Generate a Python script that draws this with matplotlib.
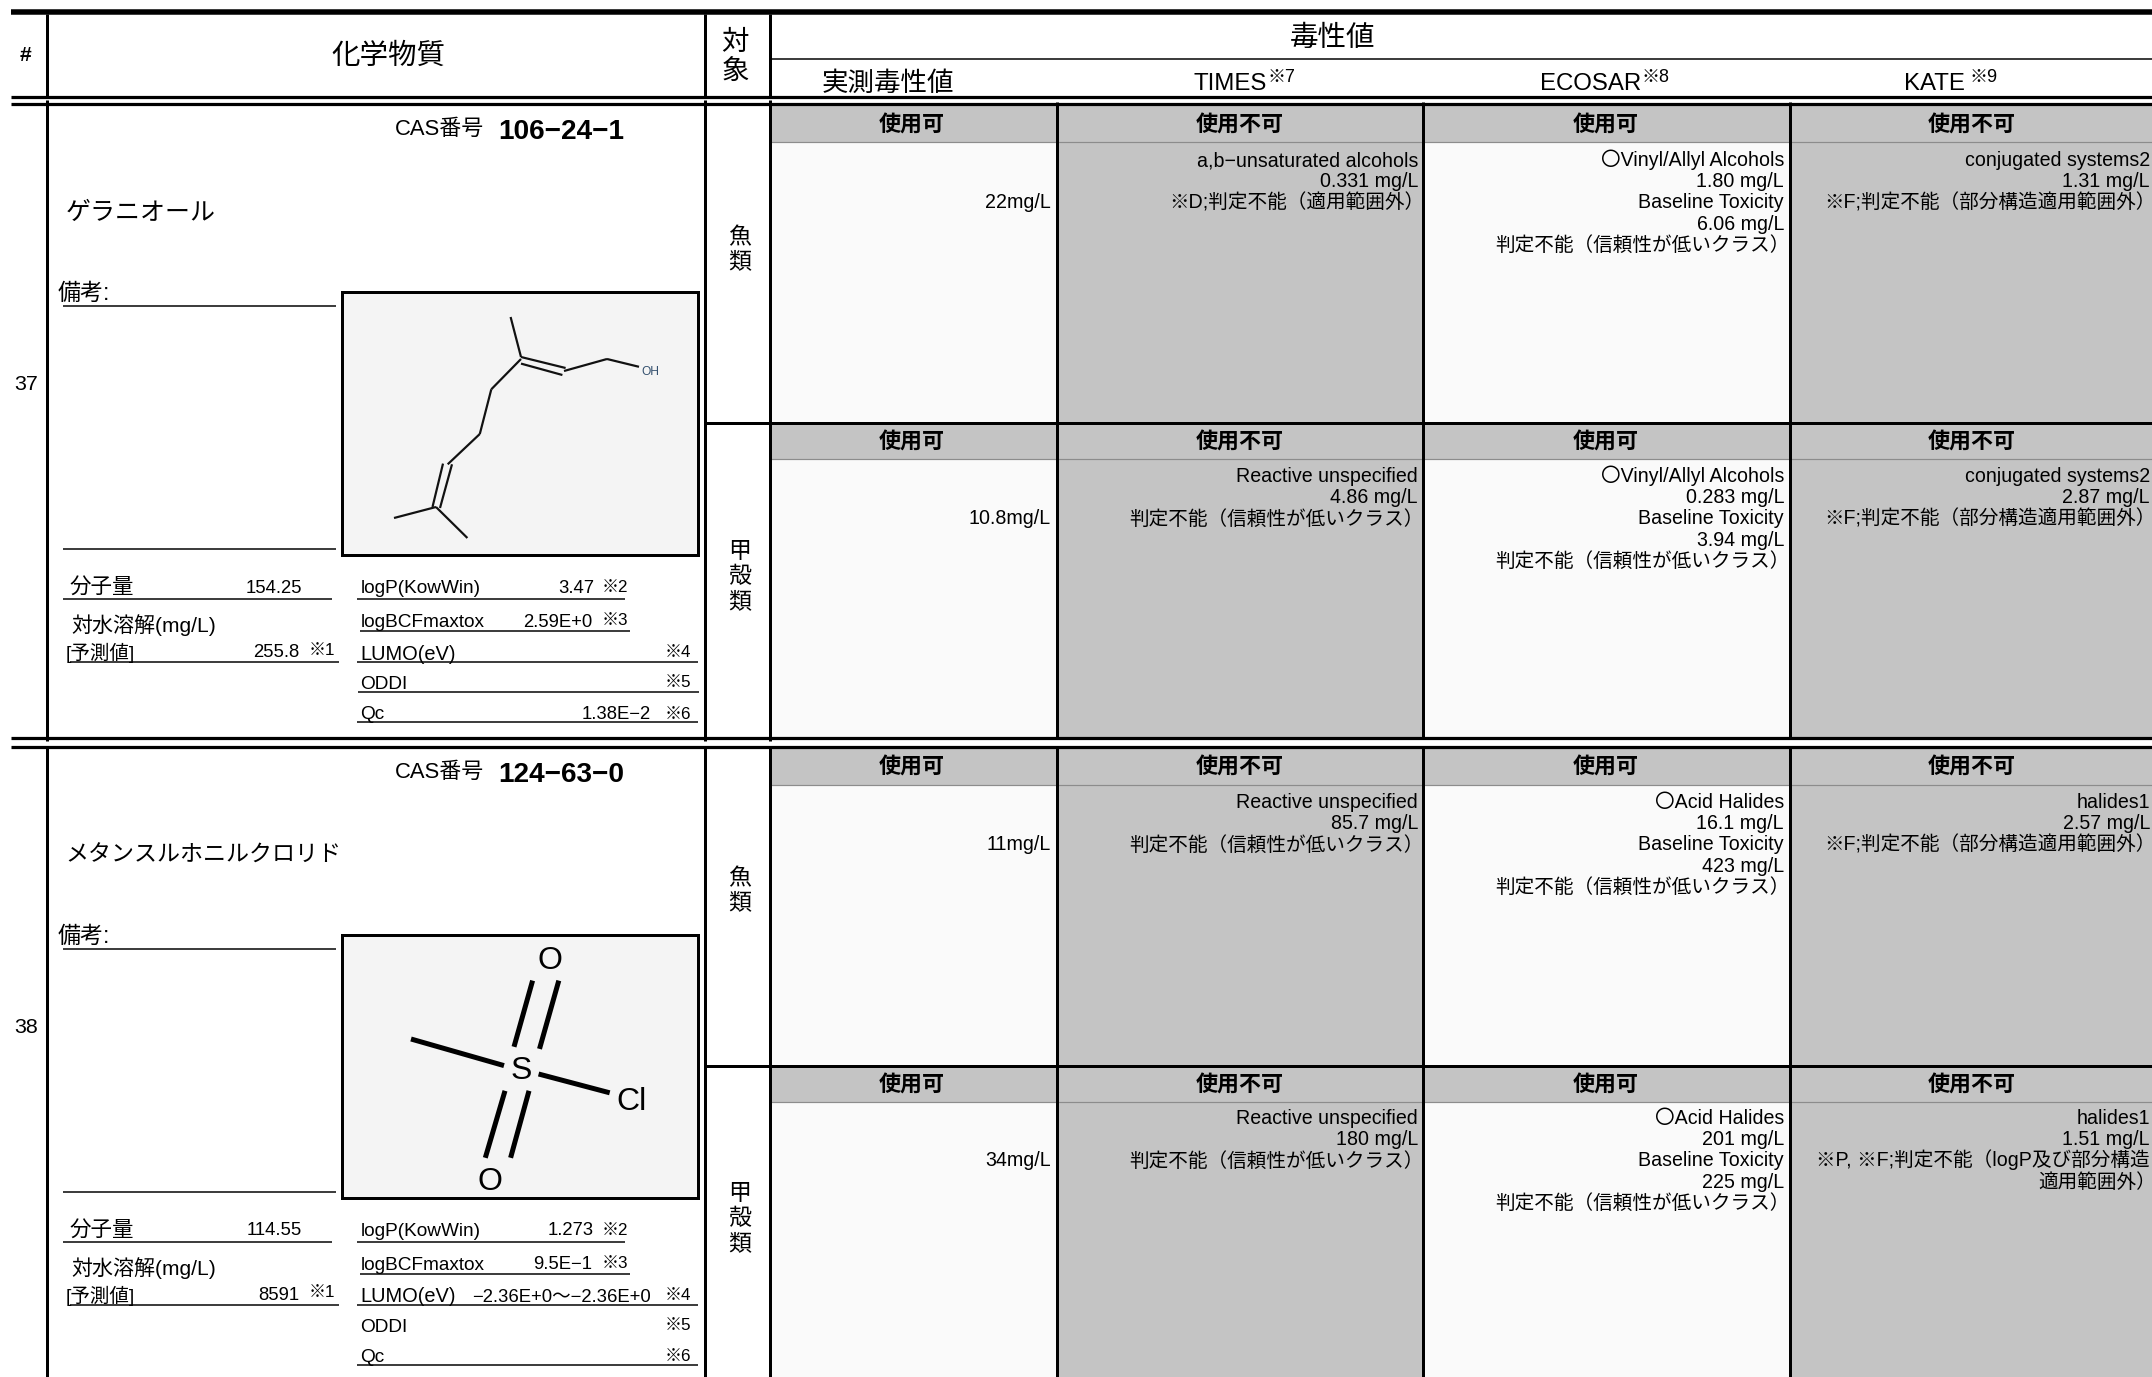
import matplotlib
matplotlib.use("Agg")
import matplotlib.pyplot as plt
from matplotlib.patches import Rectangle

plt.rcParams['font.family'] = ['Liberation Sans', 'Noto Sans CJK JP', 'DejaVu Sans']

# ---------- data ----------
header_main = "化学物質"
header_tox = "毒性値"
model_names = ["TIMES", "ECOSAR", "KATE"]
model_notes = ["※7", "※8", "※9"]
ids = ["37", "38"]
cas_numbers = ["106−24−1", "124−63−0"]
names = ["ゲラニオール", "メタンスルホニルクロリド"]
mol_weight = ["154.25", "114.55"]
solubility = ["255.8", "8591"]
logp = ["3.47", "1.273"]
logbcf = ["2.59E+0", "9.5E−1"]
lumo = ["", "−2.36E+0～−2.36E+0"]
qc = ["1.38E−2", ""]
targets = ["魚類", "甲殻類"]

status = [  # one row per target, one entry per column
    ["使用可", "使用不可", "使用可", "使用不可"],
    ["使用可", "使用不可", "使用可", "使用不可"],
    ["使用可", "使用不可", "使用可", "使用不可"],
    ["使用可", "使用不可", "使用可", "使用不可"],
]
measured = ["22mg/L", "10.8mg/L", "11mg/L", "34mg/L"]
times_text = [
    ["a,b−unsaturated alcohols", "0.331 mg/L", "※D;判定不能（適用範囲外）"],
    ["Reactive unspecified", "4.86 mg/L", "判定不能（信頼性が低いクラス）"],
    ["Reactive unspecified", "85.7 mg/L", "判定不能（信頼性が低いクラス）"],
    ["Reactive unspecified", "180 mg/L", "判定不能（信頼性が低いクラス）"],
]
ecosar_text = [
    ["〇Vinyl/Allyl Alcohols", "1.80 mg/L", "Baseline Toxicity", "6.06 mg/L", "判定不能（信頼性が低いクラス）"],
    ["〇Vinyl/Allyl Alcohols", "0.283 mg/L", "Baseline Toxicity", "3.94 mg/L", "判定不能（信頼性が低いクラス）"],
    ["〇Acid Halides", "16.1 mg/L", "Baseline Toxicity", "423 mg/L", "判定不能（信頼性が低いクラス）"],
    ["〇Acid Halides", "201 mg/L", "Baseline Toxicity", "225 mg/L", "判定不能（信頼性が低いクラス）"],
]
kate_text = [
    ["conjugated systems2", "1.31 mg/L", "※F;判定不能（部分構造適用範囲外）"],
    ["conjugated systems2", "2.87 mg/L", "※F;判定不能（部分構造適用範囲外）"],
    ["halides1", "2.57 mg/L", "※F;判定不能（部分構造適用範囲外）"],
    ["halides1", "1.51 mg/L", "※P, ※F;判定不能（logP及び部分構造", "適用範囲外）"],
]

# ---------- layout (pixels) ----------
W, H = 2152, 1377
X_ID, X_TGT, X_C0, X_C1, X_C2, X_C3 = 46.5, 705, 770, 1057, 1423, 1789.5
cols = [(X_C0, X_C1), (X_C1, X_C2), (X_C2, X_C3), (X_C3, W)]
rights = [1051, 1418, 1784, 2150]
centers = [912, 1240, 1606, 1972]
row_tops = [104, 422.5, 746, 1065]
row_bots = [422.5, 737, 1065, H]
band_h = [38, 36, 39, 37]
text_first = [159, 475, 801, 1117]
target_centers = [248, 575, 889, 1217]
name_px = [25, 23]
PITCH = 21.2
GRAY, PALE, BANDEDGE = "#C4C4C4", "#FAFAFA", "#8C8C8C"
CELL_PX = 19.6

fig = plt.figure(figsize=(W / 100, H / 100), dpi=100, facecolor="white")
ax = fig.add_axes([0, 0, 1, 1])
ax.set_xlim(0, W)
ax.set_ylim(H, 0)
ax.axis("off")


def T(x, y, s, px=18.75, ha="left", **kw):
    """Text placed by the visual centre line, size in pixels."""
    ax.text(x, y + 0.36 * px, s, fontsize=px * 0.72, ha=ha, va="baseline",
            color=kw.pop("color", "black"), zorder=5, **kw)


def L(x0, y0, x1, y1, w=1.5, c="black", z=4):
    ax.plot([x0, x1], [y0, y1], color=c, lw=w * 0.72, solid_capstyle="butt", zorder=z)


# ---------- table cells ----------
for r in range(4):
    top, bot, bh = row_tops[r], row_bots[r], band_h[r]
    for c, (x0, x1) in enumerate(cols):
        usable = status[r][c] == "使用可"
        ax.add_patch(Rectangle((x0, top), x1 - x0, bot - top,
                               fc=PALE if usable else GRAY, ec="none", zorder=1))
        ax.add_patch(Rectangle((x0, top), x1 - x0, bh, fc=GRAY, ec="none", zorder=2))
        T(centers[c], top + bh / 2 + 0.5, status[r][c], px=22, ha="center", fontweight="bold")
    L(X_C0, top + bh, W, top + bh, 1.2, BANDEDGE, 3)
    T(rights[0], text_first[r] + 2 * PITCH, measured[r], px=CELL_PX, ha="right")
    for c, block in zip((1, 2, 3), (times_text[r], ecosar_text[r], kate_text[r])):
        for i, line in enumerate(block):
            shift = 6 if line.endswith("）") else 0
            T(rights[c] + shift, text_first[r] + i * PITCH, line, px=CELL_PX, ha="right")
    name = targets[r % 2]
    y0 = target_centers[r] - (len(name) - 1) * 12.4
    for i, ch in enumerate(name):
        T(740, y0 + i * 24.8, ch, px=23, ha="center")

# ---------- rules ----------
L(11, 12, W, 12, 5.5)
L(11, 96.5, W, 96.5, 3.2)
L(11, 104, W, 104, 3.2)
L(11, 738, W, 738, 3.2)
L(11, 746.5, W, 746.5, 3.2)
L(X_C0, 58.7, W, 58.7, 1.5)
L(X_TGT, 422.5, W, 422.5, 3)
L(X_TGT, 1065.5, W, 1065.5, 3)
for x in (X_ID, X_TGT, X_C0):
    L(x, 14, x, 96, 3)
    L(x, 100, x, 741, 3)
    L(x, 746, x, H, 3)
for x in (X_C1, X_C2, X_C3):
    L(x, 102, x, 737, 3)
    L(x, 746, x, H, 3)

# ---------- header ----------
T(26, 53.5, "#", px=21, ha="center", fontweight="bold")
T(388, 53.5, header_main, px=28.5, ha="center")
T(735, 40, "対", px=27.5, ha="center")
T(735, 69, "象", px=27.5, ha="center")
T(1333, 35.5, header_tox, px=28.5, ha="center")
T(888, 81, "実測毒性値", px=26.5, ha="center")
for name, note, x, xn in zip(model_names, model_notes, (1193.5, 1540.5, 1904.5), (1267, 1641, 1970)):
    T(x, 81, name, px=24)
    T(xn, 76, note, px=18)

# ---------- chemical panels ----------
DY = 642.8
for k in range(2):
    d = k * DY
    T(26, 382 + d, ids[k], px=21.5, ha="center")
    T(395, 127 + d, "CAS番号", px=22)
    T(498, 129 + d, cas_numbers[k], px=28, fontweight="bold")
    T(65.5, 210.7 + d, names[k], px=name_px[k])
    T(58, 291.5 + d, "備考:", px=23)
    L(63, 306.4 + d, 336, 306.4 + d)
    L(63, 549.3 + d, 336, 549.3 + d)
    ax.add_patch(Rectangle((342, 292 + d), 356, 263, fc="#F4F4F4", ec="black", lw=3 * 0.72, zorder=3))

    T(70, 585.5 + d, "分子量", px=21.5)
    T(302, 586 + d, mol_weight[k], px=18.5, ha="right")
    L(63, 599.3 + d, 331.5, 599.3 + d)
    T(71, 624.5 + d, "対水溶解(mg/L)", px=21)
    T(66, 652 + d, "[予測値]", px=19.5)
    T(299.4, 650.5 + d, solubility[k], px=18.5, ha="right")
    T(308.5, 648.5 + d, "※1", px=17)
    L(70, 662.3 + d, 339, 662.3 + d)

    T(360.4, 586 + d, "logP(KowWin)", px=19)
    T(594, 586 + d, logp[k], px=18.5, ha="right")
    T(601.5, 586 + d, "※2", px=17)
    L(357, 599.3 + d, 625, 599.3 + d)
    T(360.4, 620 + d, "logBCFmaxtox", px=19)
    T(592, 620 + d, logbcf[k], px=18.5, ha="right")
    T(601.5, 619 + d, "※3", px=17)
    L(360.4, 631 + d, 630, 631 + d)
    T(360.4, 652.5 + d, "LUMO(eV)", px=20)
    if lumo[k]:
        T(651, 652.5 + d, lumo[k], px=18.5, ha="right")
    T(665, 651 + d, "※4", px=17)
    L(357, 662.3 + d, 698, 662.3 + d)
    T(360.4, 682.5 + d, "ODDI", px=19)
    T(665, 681 + d, "※5", px=17)
    if k == 0:
        L(358, 691.7 + d, 698.5, 691.7 + d)
    T(360.4, 712.5 + d, "Qc", px=19)
    if qc[k]:
        T(651, 712.5 + d, qc[k], px=18.5, ha="right")
    T(665, 712.5 + d, "※6", px=17)
    L(357, 722.3 + d, 698, 722.3 + d)

# ---------- structure drawings ----------
geraniol_bonds = [
    ((510.6, 317), (521, 357)), ((521, 357), (565.6, 368)), ((521, 363.6), (562.4, 375)),
    ((564, 371), (607, 359)), ((607, 359), (639, 366.8)), ((521, 359), (491.3, 389.3)),
    ((491.3, 389.3), (479.8, 434)), ((479.8, 434), (447.7, 464.3)),
    ((443, 463.6), (432.5, 507)), ((452, 464.3), (440, 508)),
    ((436, 507), (394, 518)), ((436, 507), (467.4, 538)),
]
for p, q in geraniol_bonds:
    L(p[0], p[1], q[0], q[1], 2.2, "#111111", 4)
T(650, 371, "OH", px=12, ha="center", color="#33506E")

sulfonyl_bonds = [
    ((411, 1039), (504, 1065.6)), ((538.6, 1074), (609.7, 1092.8)),
    ((532.6, 980.6), (514, 1046.8)), ((558.8, 980.6), (539.5, 1048.9)),
    ((505, 1090.8), (485.3, 1157.8)), ((529, 1090.8), (510.6, 1157.8)),
]
for p, q in sulfonyl_bonds:
    L(p[0], p[1], q[0], q[1], 5, "black", 4)
T(521, 1067.7, "S", px=32, ha="center")
T(631, 1098, "Cl", px=32, ha="center")
T(550, 957.5, "O", px=32, ha="center")
T(490, 1178.7, "O", px=32, ha="center")

fig.savefig("out.png", dpi=100, facecolor="white")
